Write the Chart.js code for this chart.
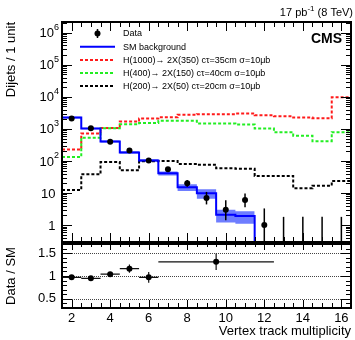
<!DOCTYPE html>
<html>
<head>
<meta charset="utf-8">
<script src="https://cdn.jsdelivr.net/npm/chart.js@4.4.1/dist/chart.umd.min.js"></script>
<style>
  html, body { margin: 0; padding: 0; background: #fff; }
  #wrap { position: relative; width: 355px; height: 340px; }
  #top { position: absolute; left: 0; top: 0; }
  #bot { position: absolute; left: 0; top: 240px; }
</style>
</head>
<body>
<div id="wrap">
  <canvas id="top" width="355" height="246"></canvas>
  <canvas id="bot" width="355" height="100"></canvas>
</div>
<script>
// bin centres (vertex track multiplicity)
const bins = [2, 3, 4, 5, 6, 7, 8, 9, 10, 11, 12, 13, 14, 15, 16];
// SM background and its uncertainty
const smBkg = [2260, 1030, 406, 185, 104, 41, 15.1, 9.9, 2.1, 1.9, 0, 0, 0, 0, 0];
const smErr = [150, 60, 30, 14, 9, 6, 3.6, 3.3, 0.9, 0.8, 0, 0, 0, 0, 0];
// signal models
const sigH1000 = [229, 720, 1067, 1698, 2104, 2308, 2740, 2862, 2862, 3006, 2663, 2479, 2260, 2150, 9650];
const sigH400 = [132, 527, 1050, 1400, 1520, 1780, 1780, 1470, 1470, 1370, 1030, 790, 615, 415, 790];
const sigH200 = [12.5, 38.4, 92.5, 51, 97, 99, 81, 76, 59, 57, 34, 34, 14.1, 16.9, 23.8];
// data
const dataN = [2100, 1050, 400, 213, 104, 55, 20, 7, 3, 6, 1, 0, 0, 0, 0];
const dataErrUp = [46, 33, 21, 15, 11, 8.5, 5.5, 3.8, 2.9, 3.6, 2.3, 1.8, 1.8, 1.8, 1.8];
const dataErrDn = [46, 32, 20, 14, 10, 7.4, 4.4, 2.6, 1.6, 2.4, 0.83, 0, 0, 0, 0];
// ratio panel
const ratioX = [2, 3, 4, 5, 6, 9.5];
const ratioXLo = [1.5, 2.5, 3.5, 4.5, 5.5, 6.5];
const ratioXHi = [2.5, 3.5, 4.5, 5.5, 6.5, 12.5];
const ratioVal = [0.97, 0.95, 1.04, 1.16, 0.97, 1.31];
const ratioErr = [0.03, 0.03, 0.05, 0.09, 0.12, 0.18];
// ticks
const xTicks = [2, 4, 6, 8, 10, 12, 14, 16];
const yDecades = [1, 10, 100, 1e3, 1e4, 1e5, 1e6];
const ratioTicks = [0.5, 1, 1.5];
const ratioLines = [0.5, 1, 1.5];

const legendText = ['Data', 'SM background',
  'H(1000)\u2192 2X(350) c\u03c4=35cm \u03c3=10\u03bcb',
  'H(400)\u2192 2X(150) c\u03c4=40cm \u03c3=10\u03bcb',
  'H(200)\u2192 2X(50) c\u03c4=20cm \u03c3=10\u03bcb'];

const Y_MIN = 0.296, Y_MAX = 2.16e6;
const X_MIN = 1.5, X_MAX = 16.5;
const FONT = '"Liberation Sans", Arial, Helvetica, sans-serif';
const BLUE = '#0000ff', RED = '#ff1a1a', GREEN = '#22ee22', BAND = '#6e7dff';

// histogram as step line: lower edges + final upper edge
function hist(vals) {
  const pts = bins.map((b, i) => ({ x: b - 0.5, y: vals[i] > 0 ? vals[i] : Y_MIN }));
  pts.push({ x: bins[bins.length - 1] + 0.5, y: pts[pts.length - 1].y });
  return pts;
}
function band(sign) {
  const idx = bins.map((b, i) => i).filter(i => smBkg[i] > 0);
  const pts = idx.map(i => ({ x: bins[i] - 0.5, y: smBkg[i] + sign * smErr[i] }));
  pts.push({ x: bins[idx[idx.length - 1]] + 0.5, y: pts[pts.length - 1].y });
  return pts;
}

function noPad(s) {
  s.paddingTop = 0; s.paddingBottom = 0; s.paddingLeft = 0; s.paddingRight = 0;
}

function frameAndXTicks(ctx, a, xs, topLen, botLen) {
  ctx.save();
  ctx.strokeStyle = '#000';
  ctx.lineWidth = 1;
  for (let v = X_MIN + 0.5; v < X_MAX; v += 0.5) {
    const major = xTicks.includes(v);
    const px = Math.round(xs.getPixelForValue(v)) + 0.5;
    const lt = major ? topLen[0] : topLen[1];
    const lb = major ? botLen[0] : botLen[1];
    ctx.beginPath();
    ctx.moveTo(px, a.top); ctx.lineTo(px, a.top + lt);
    ctx.moveTo(px, a.bottom); ctx.lineTo(px, a.bottom - lb);
    ctx.stroke();
  }
  ctx.lineWidth = 2;
  ctx.strokeRect(a.left, a.top, a.right - a.left, a.bottom - a.top);
  ctx.restore();
}

function yTick(ctx, a, py, len) {
  py = Math.round(py) + 0.5;
  ctx.beginPath();
  ctx.moveTo(a.left, py); ctx.lineTo(a.left + len, py);
  ctx.moveTo(a.right, py); ctx.lineTo(a.right - len, py);
  ctx.stroke();
}

const upperDeco = {
  id: 'upperDeco',
  afterDatasetsDraw(chart) {
    const ctx = chart.ctx, a = chart.chartArea;
    const xs = chart.scales.x, ys = chart.scales.y;
    ctx.save();
    ctx.beginPath();
    ctx.rect(a.left, a.top, a.right - a.left, a.bottom - a.top);
    ctx.clip();
    ctx.strokeStyle = '#000';
    ctx.lineWidth = 1.5;
    bins.forEach((b, i) => {
      const px = xs.getPixelForValue(b);
      const lo = dataN[i] - dataErrDn[i];
      const yLo = lo > 0 ? ys.getPixelForValue(lo) : a.bottom;
      const yHi = ys.getPixelForValue(dataN[i] + dataErrUp[i]);
      ctx.beginPath();
      ctx.moveTo(px, yLo); ctx.lineTo(px, yHi);
      ctx.stroke();
    });
    ctx.restore();
  },
  afterDraw(chart) {
    const ctx = chart.ctx, a = chart.chartArea;
    const xs = chart.scales.x, ys = chart.scales.y;
    frameAndXTicks(ctx, a, xs, [9, 5], [9, 5]);

    // log ticks, left and right
    ctx.save();
    ctx.strokeStyle = '#000';
    ctx.lineWidth = 1;
    for (let d = 0.1; d <= 1e6; d *= 10) {
      for (let k = 1; k <= 9; k++) {
        const v = k * d;
        if (v < Y_MIN || v > Y_MAX) continue;
        yTick(ctx, a, ys.getPixelForValue(v), k === 1 ? 10 : 5);
      }
    }
    // log labels
    ctx.fillStyle = '#000';
    ctx.textBaseline = 'middle';
    yDecades.forEach(v => {
      const py = ys.getPixelForValue(v);
      const e = Math.round(Math.log10(v));
      if (e < 2) {
        ctx.font = '13px ' + FONT;
        ctx.textAlign = 'right';
        ctx.fillText(String(v), 55.5, py + 1);
      } else {
        ctx.font = '9px ' + FONT;
        ctx.textAlign = 'right';
        ctx.fillText(String(e), 59, py - 5);
        const ew = ctx.measureText(String(e)).width;
        ctx.font = '13px ' + FONT;
        ctx.fillText('10', 59 - ew, py + 1);
      }
    });

    // legend
    const lx0 = 80, lx1 = 115, tx = 123;
    const ly = [33.5, 46.7, 60, 73, 86];
    ctx.font = '9px ' + FONT;
    ctx.textAlign = 'left';
    ctx.textBaseline = 'middle';
    legendText.forEach((t, i) => ctx.fillText(t, tx, ly[i] + 0.5));
    ctx.lineWidth = 1.5;
    ctx.beginPath();
    ctx.moveTo(97.5, ly[0] - 4.5); ctx.lineTo(97.5, ly[0] + 4.5);
    ctx.stroke();
    ctx.beginPath();
    ctx.arc(97.5, ly[0], 3, 0, Math.PI * 2);
    ctx.fill();
    const styles = [[BLUE, []], [RED, [3, 2]], [GREEN, [3, 2]], ['#000', [3, 2]]];
    styles.forEach((s, i) => {
      ctx.strokeStyle = s[0];
      ctx.setLineDash(s[1]);
      ctx.lineWidth = 2;
      ctx.beginPath();
      ctx.moveTo(lx0, ly[i + 1]); ctx.lineTo(lx1, ly[i + 1]);
      ctx.stroke();
    });
    ctx.setLineDash([]);

    // header texts
    ctx.fillStyle = '#000';
    ctx.textBaseline = 'alphabetic';
    ctx.textAlign = 'left';
    ctx.font = '11px ' + FONT;
    const t1 = '17 pb', t3 = ' (8 TeV)';
    const w1 = ctx.measureText(t1).width, w3 = ctx.measureText(t3).width;
    ctx.font = '8px ' + FONT;
    const t2 = '-1';
    const w2 = ctx.measureText(t2).width;
    let x = 353 - (w1 + w2 + w3);
    ctx.font = '11px ' + FONT;
    ctx.fillText(t1, x, 16);
    ctx.font = '8px ' + FONT;
    ctx.fillText(t2, x + w1, 11);
    ctx.font = '11px ' + FONT;
    ctx.fillText(t3, x + w1 + w2, 16);
    ctx.font = 'bold 14px ' + FONT;
    ctx.textAlign = 'right';
    ctx.fillText('CMS', 342, 43);
    ctx.restore();
  }
};

const lowerDeco = {
  id: 'lowerDeco',
  beforeDatasetsDraw(chart) {
    const ctx = chart.ctx, a = chart.chartArea;
    const xs = chart.scales.x, ys = chart.scales.y;
    ctx.save();
    ctx.strokeStyle = '#444';
    ctx.lineWidth = 1;
    ctx.setLineDash([1, 1]);
    ratioLines.forEach(v => {
      const py = Math.round(ys.getPixelForValue(v)) + 0.5;
      ctx.beginPath();
      ctx.moveTo(a.left, py); ctx.lineTo(a.right, py);
      ctx.stroke();
    });
    ctx.setLineDash([]);
    ctx.strokeStyle = '#111';
    ctx.lineWidth = 1.2;
    ratioX.forEach((x, i) => {
      const px = xs.getPixelForValue(x), py = ys.getPixelForValue(ratioVal[i]);
      ctx.beginPath();
      ctx.moveTo(xs.getPixelForValue(ratioXLo[i]), py);
      ctx.lineTo(xs.getPixelForValue(ratioXHi[i]), py);
      ctx.moveTo(px, ys.getPixelForValue(ratioVal[i] - ratioErr[i]));
      ctx.lineTo(px, ys.getPixelForValue(ratioVal[i] + ratioErr[i]));
      ctx.stroke();
    });
    ctx.restore();
  },
  afterDraw(chart) {
    const ctx = chart.ctx, a = chart.chartArea;
    const xs = chart.scales.x, ys = chart.scales.y;
    ctx.save();
    ctx.strokeStyle = '#000';
    ctx.lineWidth = 1;
    for (let v = 0.4; v < 1.7; v += 0.1) {
      const major = ratioTicks.some(t => Math.abs(t - v) < 1e-6);
      yTick(ctx, a, ys.getPixelForValue(v), major ? 10 : 5);
    }
    ctx.restore();
    frameAndXTicks(ctx, a, xs, [6, 3], [8, 5]);
  }
};

new Chart(document.getElementById('top'), {
  type: 'line',
  data: {
    datasets: [
      { type: 'scatter', data: bins.map((b, i) => ({ x: b, y: dataN[i] })).filter(p => p.y > 0),
        pointRadius: 3, pointBackgroundColor: '#000', pointBorderWidth: 0, showLine: false },
      { data: hist(smBkg), stepped: true, borderColor: BLUE, borderWidth: 2, pointRadius: 0, fill: false },
      { data: hist(sigH200), stepped: true, borderColor: '#000', borderDash: [3, 2], borderWidth: 2, pointRadius: 0, fill: false },
      { data: hist(sigH400), stepped: true, borderColor: GREEN, borderDash: [3, 2], borderWidth: 2, pointRadius: 0, fill: false },
      { data: hist(sigH1000), stepped: true, borderColor: RED, borderDash: [3, 2], borderWidth: 2, pointRadius: 0, fill: false },
      { data: band(1), stepped: true, borderColor: 'transparent', borderWidth: 0, pointRadius: 0,
        backgroundColor: BAND, fill: '+1' },
      { data: band(-1), stepped: true, borderColor: 'transparent', borderWidth: 0, pointRadius: 0, fill: false }
    ]
  },
  options: {
    responsive: false,
    animation: false,
    layout: { padding: { left: 0, right: 2, top: 22, bottom: 3 } },
    plugins: { legend: { display: false }, tooltip: { enabled: false } },
    scales: {
      x: { type: 'linear', min: X_MIN, max: X_MAX, display: false },
      y: {
        type: 'logarithmic', min: Y_MIN, max: Y_MAX,
        grid: { display: false, drawTicks: false },
        border: { display: false },
        ticks: { display: false },
        title: { display: true, text: 'Dijets / 1 unit', align: 'end', color: '#000',
                 font: { family: FONT, size: 13 }, padding: { top: 4, bottom: 0 } },
        afterFit: s => { s.width = 62; noPad(s); }
      }
    }
  },
  plugins: [upperDeco]
});

new Chart(document.getElementById('bot'), {
  type: 'scatter',
  data: {
    datasets: [{ data: ratioX.map((x, i) => ({ x: x, y: ratioVal[i] })),
                 pointRadius: 3, pointBackgroundColor: '#000', pointBorderWidth: 0 }]
  },
  options: {
    responsive: false,
    animation: false,
    layout: { padding: { left: 0, right: 2, top: 3, bottom: 0 } },
    plugins: { legend: { display: false }, tooltip: { enabled: false } },
    scales: {
      x: {
        type: 'linear', min: X_MIN, max: X_MAX,
        afterBuildTicks: s => { s.ticks = xTicks.map(v => ({ value: v })); },
        grid: { display: false, drawTicks: false },
        border: { display: false },
        ticks: { color: '#000', font: { family: FONT, size: 13 }, padding: 3, maxRotation: 0, autoSkip: false },
        title: { display: true, text: 'Vertex track multiplicity', align: 'end', color: '#000',
                 font: { family: FONT, size: 13 }, padding: { top: 0, bottom: 1 } },
        afterFit: s => { s.height = 32; noPad(s); }
      },
      y: {
        type: 'linear', min: 0.3, max: 1.7,
        afterBuildTicks: s => { s.ticks = ratioTicks.map(v => ({ value: v })); },
        grid: { display: false, drawTicks: false },
        border: { display: false },
        ticks: { color: '#000', font: { family: FONT, size: 13 }, padding: 6, callback: v => String(v) },
        title: { display: true, text: 'Data / SM', color: '#000',
                 font: { family: FONT, size: 13 }, padding: { top: 4, bottom: 0 } },
        afterFit: s => { s.width = 62; noPad(s); }
      }
    }
  },
  plugins: [lowerDeco]
});
</script>
</body>
</html>
